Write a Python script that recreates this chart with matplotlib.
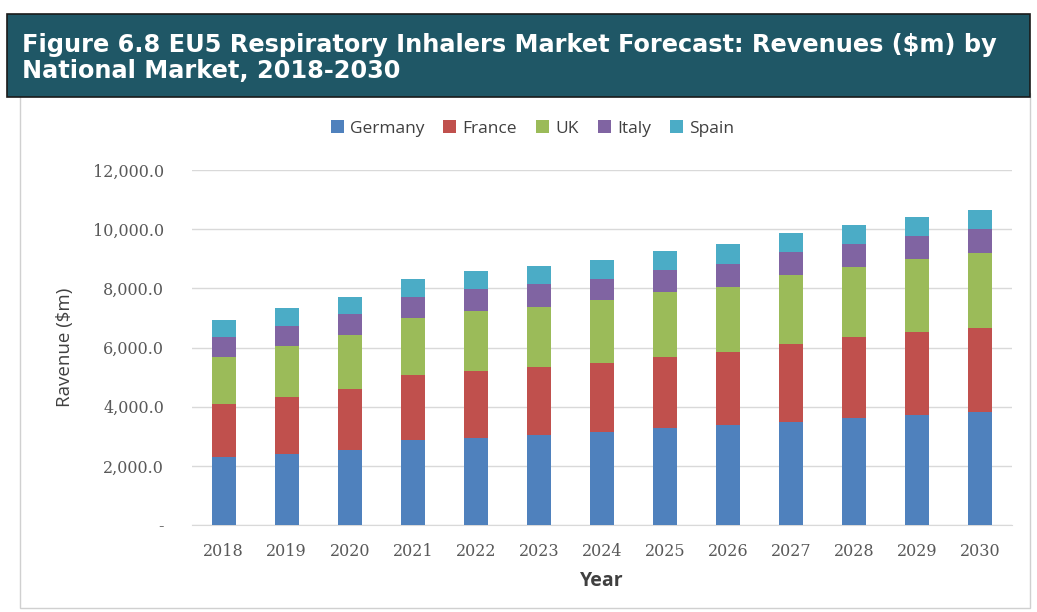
import matplotlib
matplotlib.use("Agg")
import matplotlib.pyplot as plt
from matplotlib.patches import Rectangle
from matplotlib.ticker import FuncFormatter
import numpy as np

years = ["2018", "2019", "2020", "2021", "2022", "2023", "2024",
         "2025", "2026", "2027", "2028", "2029", "2030"]
germany = [2300, 2415, 2530, 2865, 2955, 3035, 3145, 3280, 3370, 3480, 3615, 3730, 3820]
france = [1780, 1910, 2065, 2190, 2235, 2300, 2335, 2395, 2470, 2650, 2730, 2785, 2840]
uk = [1615, 1720, 1830, 1955, 2055, 2045, 2125, 2190, 2215, 2325, 2370, 2470, 2540]
italy = [675, 695, 695, 705, 720, 765, 710, 755, 755, 785, 800, 785, 800]
spain = [565, 585, 595, 605, 605, 595, 650, 630, 675, 630, 630, 640, 650]

series_names = ["Germany", "France", "UK", "Italy", "Spain"]
series_vals = [germany, france, uk, italy, spain]
colors = ["#4f81bd", "#c0504d", "#9bbb59", "#8064a2", "#4bacc6"]

title = "Figure 6.8 EU5 Respiratory Inhalers Market Forecast: Revenues ($m) by\nNational Market, 2018-2030"

fig = plt.figure(figsize=(10.37, 6.12), dpi=100)
fig.patch.set_facecolor("white")

# chart area border
fig.add_artist(Rectangle((20/1037, 4/612), 1010/1037, (515)/612,
                         transform=fig.transFigure, facecolor="white",
                         edgecolor="#d0d0d0", lw=1.0, zorder=0))
# title banner
fig.add_artist(Rectangle((7/1037, (612-97)/612), 1023/1037, 83/612,
                         transform=fig.transFigure, facecolor="#1f5766",
                         edgecolor="#1a1a1a", lw=1.2, zorder=1))
fig.text(22/1037, (612-58)/612, title, color="white", fontsize=17.3,
         fontweight="bold", family="DejaVu Sans", va="center", ha="left",
         linespacing=1.15, zorder=2)

ax = fig.add_axes([192/1037, (612-525)/612, 820/1037, 355/612])
x = np.arange(len(years))
bottom = np.zeros(len(years))
for name, vals, c in zip(series_names, series_vals, colors):
    ax.bar(x, vals, width=0.38, bottom=bottom, color=c, label=name, zorder=3)
    bottom += np.array(vals)

ax.set_xlim(-0.5, len(years) - 0.5)
ax.set_ylim(0, 12000)
ax.set_yticks(np.arange(0, 12001, 2000))
ax.yaxis.set_major_formatter(FuncFormatter(lambda v, p: "-" if v == 0 else f"{v:,.1f}"))
ax.set_xticks(x)
ax.set_xticklabels(years)
ax.grid(axis="y", color="#d9d9d9", lw=1.0, zorder=0)
for s in ["top", "right", "left"]:
    ax.spines[s].set_visible(False)
ax.spines["bottom"].set_color("#d9d9d9")
ax.tick_params(axis="both", length=0, colors="#595959")
ax.tick_params(axis="y", pad=20)
ax.tick_params(axis="x", pad=13)
for lab in ax.get_xticklabels() + ax.get_yticklabels():
    lab.set_family("DejaVu Serif")
    lab.set_fontsize(11.5)

ax.set_ylabel("Ravenue ($m)", fontsize=13.5, color="#404040", family="Open Sans", labelpad=14)
ax.set_xlabel("Year", fontsize=14, color="#404040", fontweight="bold", family="Open Sans", labelpad=8)

leg = ax.legend(loc="lower center", bbox_to_anchor=(0.415, 1.05), ncol=5, frameon=False,
                handlelength=0.75, handleheight=0.75, handletextpad=0.35, columnspacing=1.1,
                prop={"family": "Open Sans", "size": 12.5})
for t in leg.get_texts():
    t.set_color("#404040")

fig.savefig("out.png", dpi=100)
